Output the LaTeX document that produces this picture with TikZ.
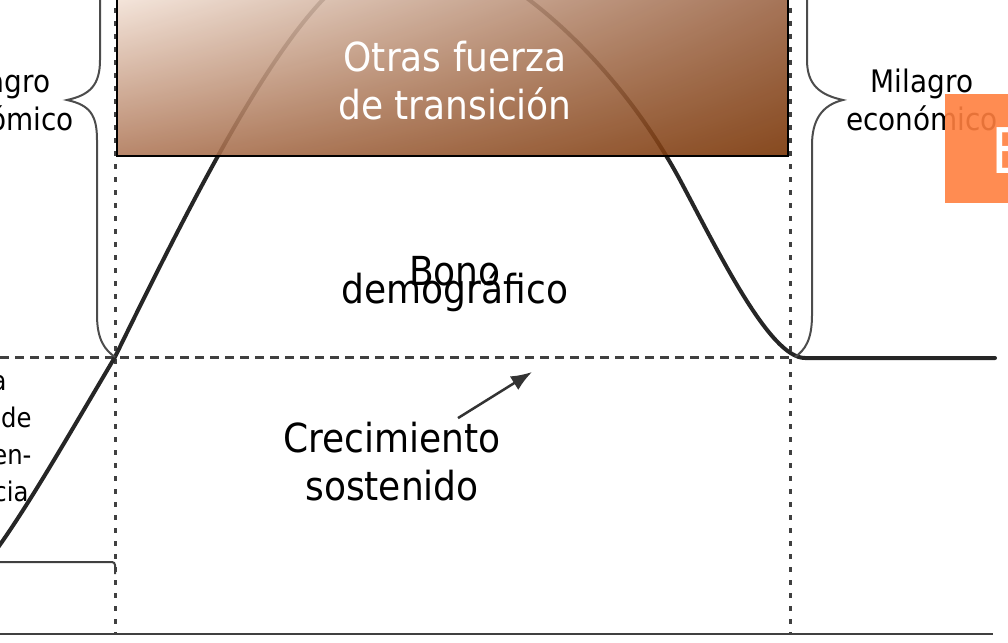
\documentclass[tikz,border=0pt]{standalone}
\usepackage{fontspec}
\setmainfont{DejaVu Sans Condensed}
\usetikzlibrary{arrows.meta,calc,shadings}
\definecolor{brownTL}{HTML}{F4E4D9}
\definecolor{brownTR}{HTML}{9A6242}
\definecolor{brownBL}{HTML}{AE7656}
\definecolor{brownBR}{HTML}{763000}
\definecolor{slideorange}{HTML}{FF7F3F}
\newcommand{\bigsize}{\fontsize{40}{48}\selectfont\lineskiplimit -100pt\relax}
\newcommand{\smallsize}{\fontsize{31}{38}\selectfont\lineskiplimit -100pt\relax}
\newcommand{\sidesize}{\fontsize{27}{37}\selectfont\lineskiplimit -100pt\relax}

\begin{document}
\begin{tikzpicture}[x=1pt,y=-1pt,
  curve/.style={line width=4pt,black!85,line cap=round},
  guide/.style={line width=3pt,black!75,dash pattern=on 5pt off 8pt},
  level/.style={line width=3pt,black!75,dash pattern=on 9pt off 6pt},
  brace/.style={line width=2pt,black!70},
  bigtxt/.style={font=\bigsize,align=center,anchor=base},
  smalltxt/.style={font=\smallsize,align=center,anchor=base}]
  \useasboundingbox (0,0) rectangle (1008,642);
  \clip (0,0) rectangle (1008,642);
  \draw [guide] (115,-5) -- (115,634);
  \draw [guide] (790,-5) -- (790,634);
  \draw [level] (0,357) -- (790,357);
  \draw [line width=2pt,black!75] (0,634) -- (993,634);
  \draw [line width=2pt,black!75,rounded corners=3pt] (0,562) -- (115,562) -- (115,574);
  \draw [curve] (-15,565) .. controls (20,520) and (60,450) .. (115,357)
    .. controls (255,70) and (330,-50) .. (415,-50)
    .. controls (490,-50) and (610,50) .. (680,180)
    .. controls (720,255) and (770,358) .. (805,358) -- (995,358);
  \shade [upper left=brownTL,upper right=brownTR,lower left=brownBL,lower right=brownBR,fill opacity=0.88]
    (117,-5) rectangle (788,156);
  \draw [line width=2pt] (117,-5) rectangle (788,156);
  \draw [brace] (100,-40) -- (100,60) .. controls (100,85) and (90,95) .. (67,100)
    .. controls (90,105) and (97,115) .. (97,140) -- (97,315) .. controls (97,340) and (105,350) .. (115,357);
  \draw [brace] (807,-40) -- (807,60) .. controls (807,85) and (820,95) .. (843,100)
    .. controls (822,105) and (812,120) .. (812,145) -- (812,315) .. controls (812,340) and (805,350) .. (795,357);
  \node [bigtxt,text=white] (fuerzas) at (455,119) {Otras fuerza\\de transición};
  \node [bigtxt] (bono) at (455,303) {Bono\\[-30pt]demográfico};
  \node [bigtxt] (crec) at (392,500) {Crecimiento\\sostenido};
  \node [smalltxt,anchor=base east,align=right] (milagroL) at (77,130) {agro\hspace*{23pt}\\ómico};
  \node [smalltxt] (milagroR) at (922,130) {Milagro\\económico};
  \node [smalltxt,anchor=base east,align=right,font=\sidesize] (tasa) at (35,501)
    {a\hspace*{25pt}\\de\\en-\hspace*{2pt}\\cia\hspace*{3pt}};
  \coordinate (arrtip) at (532,372);
  \draw [-{Latex[length=21pt,width=16pt]},line width=2.5pt,black!80] ([xshift=66pt]crec.north) -- (arrtip);
  \fill [slideorange,fill opacity=0.9] (945,94) rectangle (1010,203);
  \node [anchor=base west,inner sep=0pt,text=white,font=\fontsize{63}{63}\selectfont] (eletter) at (991,173) {E};
\end{tikzpicture}
\end{document}
